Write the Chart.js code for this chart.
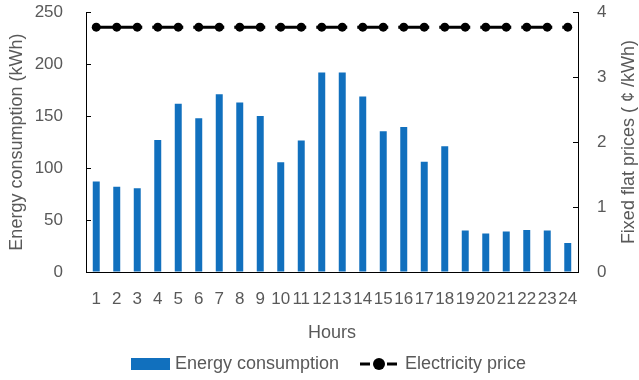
<!DOCTYPE html>
<html>
<head>
<meta charset="utf-8">
<script src="https://cdn.jsdelivr.net/npm/chart.js@4.4.1/dist/chart.umd.min.js"></script>
<style>
html, body { margin: 0; padding: 0; background: #fff; }
#wrap { width: 639px; height: 380px; }
</style>
</head>
<body>
<div id="wrap"><canvas id="chart" width="639" height="380"></canvas></div>
<script>
const hours = ["1","2","3","4","5","6","7","8","9","10","11","12","13","14","15","16","17","18","19","20","21","22","23","24"]
const energy = [87, 82, 80.5, 127, 162, 148, 171, 163, 150, 105.5, 126.5, 192, 192, 169, 135.5, 139.5, 106, 121, 40, 37, 39, 40.5, 40, 28]
const price = [3.77, 3.77, 3.77, 3.77, 3.77, 3.77, 3.77, 3.77, 3.77, 3.77, 3.77, 3.77, 3.77, 3.77, 3.77, 3.77, 3.77, 3.77, 3.77, 3.77, 3.77, 3.77, 3.77, 3.77]
const rightTitle = "Fixed flat prices ( ¢ /kWh)"

const grey = "#595959"
const font = "Liberation Sans, Arial, sans-serif"
const blue = "#1170BE"

// long dash like the original: first dash a bit longer, then dash/gap pairs
const dash = [46, 10]
for (let i = 0; i < 14; i++) dash.push(31, 10)

// inward ticks, right axis title, bottom legend
const extras = {
  id: "extras",
  afterDraw(chart) {
    const c = chart.ctx
    const area = chart.chartArea
    c.save()
    c.strokeStyle = "#000"
    c.lineWidth = 1
    const yl = chart.scales.y
    yl.ticks.forEach(t => {
      const py = Math.round(yl.getPixelForValue(t.value)) + 0.5
      c.beginPath(); c.moveTo(area.left, py); c.lineTo(area.left + 5, py); c.stroke()
    })
    const yr = chart.scales.y1
    yr.ticks.forEach(t => {
      const py = Math.round(yr.getPixelForValue(t.value)) + 0.5
      c.beginPath(); c.moveTo(area.right, py); c.lineTo(area.right - 5, py); c.stroke()
    })

    // right title, reading bottom to top
    c.save()
    c.translate(629, (area.top + area.bottom) / 2)
    c.rotate(-Math.PI / 2)
    c.font = "18px " + font
    c.fillStyle = grey
    c.textAlign = "center"
    c.textBaseline = "middle"
    c.fillText(rightTitle, 0, 0)
    c.restore()

    // legend
    const bars = chart.data.datasets[1]
    const line = chart.data.datasets[0]
    c.font = "18px " + font
    c.textBaseline = "middle"
    const y = 364
    let x = 131
    c.fillStyle = blue
    c.fillRect(x, y - 6, 39, 12)
    c.fillStyle = grey
    c.fillText(bars.label, x + 44, y)
    x = 360
    c.fillStyle = "#000"
    c.fillRect(x, y - 1.5, 10, 3)
    c.fillRect(x + 27, y - 1.5, 10, 3)
    c.beginPath(); c.arc(x + 19, y, 6, 0, Math.PI * 2); c.fill()
    c.fillStyle = grey
    c.fillText(line.label, 405, y)
    c.restore()
  }
}

const hiddenTicks = { display: true, drawOnChartArea: false, drawTicks: true, tickLength: 21, tickColor: "rgba(0,0,0,0)" }

new Chart(document.getElementById("chart"), {
  type: "bar",
  data: {
    labels: hours,
    datasets: [
      {
        type: "line",
        label: "Electricity price",
        data: price,
        yAxisID: "y1",
        borderColor: "#000",
        backgroundColor: "#000",
        borderWidth: 3,
        borderDash: dash,
        pointRadius: 4.5,
        pointHoverRadius: 4.5,
        pointBackgroundColor: "#000",
        pointBorderWidth: 0,
        order: 0
      },
      {
        label: "Energy consumption",
        data: energy,
        yAxisID: "y",
        backgroundColor: blue,
        categoryPercentage: 1,
        barPercentage: 0.34,
        order: 1
      }
    ]
  },
  plugins: [extras],
  options: {
    responsive: false,
    animation: false,
    layout: { padding: { top: 0, bottom: 36, left: 0, right: 0 } },
    plugins: {
      legend: { display: false },
      tooltip: { enabled: false }
    },
    scales: {
      x: {
        offset: true,
        grid: { display: false, drawTicks: false },
        border: { display: true, color: "#000", width: 1 },
        ticks: {
          color: grey, font: { family: font, size: 17 },
          autoSkip: false, maxRotation: 0, padding: 17
        },
        title: {
          display: true, text: "Hours", color: grey,
          font: { family: font, size: 18 }, padding: { top: 8, bottom: 0 }
        },
        afterFit(s) { s.height = 72 }
      },
      y: {
        position: "left",
        min: 0, max: 250,
        ticks: { stepSize: 50, color: grey, font: { family: font, size: 17 }, padding: 2 },
        grid: hiddenTicks,
        border: { display: true, color: "#000", width: 1 },
        title: {
          display: true, text: "Energy consumption (kWh)", color: grey,
          font: { family: font, size: 18 }, padding: { top: 6, bottom: 0 }
        },
        afterFit(s) { s.width = 86 }
      },
      y1: {
        position: "right",
        min: 0, max: 4,
        ticks: { stepSize: 1, color: grey, font: { family: font, size: 17 }, padding: 2 },
        grid: { ...hiddenTicks, tickLength: 17 },
        border: { display: true, color: "#000", width: 1 },
        afterFit(s) { s.width = 61 }
      }
    }
  }
})
</script>
</body>
</html>
